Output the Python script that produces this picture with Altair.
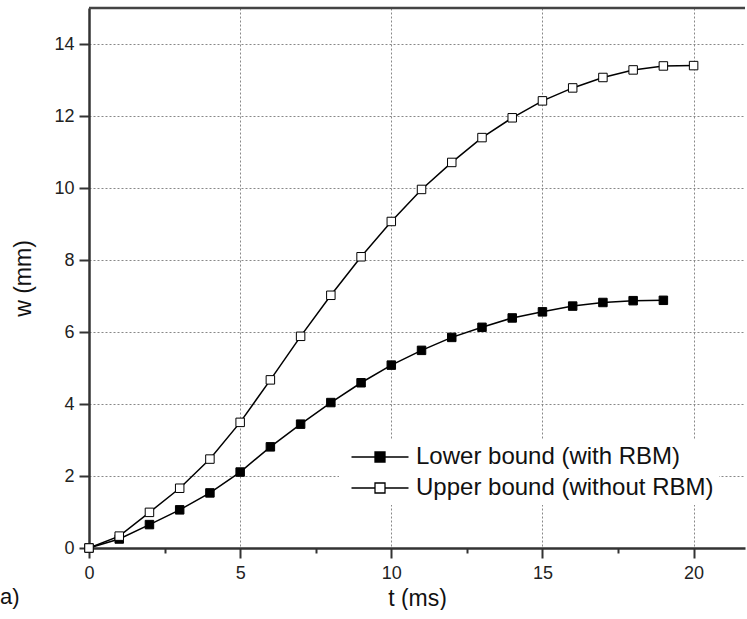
import altair as alt
import pandas as pd

# ---- data ----
t_lower = list(range(0, 20))
w_lower = [0.0, 0.25, 0.65, 1.06, 1.53, 2.11, 2.81, 3.44, 4.04, 4.59,
           5.08, 5.49, 5.85, 6.13, 6.39, 6.56, 6.72, 6.82, 6.87, 6.88]
t_upper = list(range(0, 21))
w_upper = [0.0, 0.33, 0.99, 1.66, 2.47, 3.49, 4.67, 5.88, 7.02, 8.09,
           9.07, 9.96, 10.71, 11.40, 11.95, 12.42, 12.78, 13.07, 13.28, 13.39, 13.40]
series_names = ["Lower bound (with RBM)", "Upper bound (without RBM)"]
series_fills = ["black", "white"]
x_ticks = [0, 2.5, 5, 7.5, 10, 12.5, 15, 17.5, 20]
y_ticks = list(range(0, 16))
x_max = 21.7
y_max = 15

rows = []
for t, w in zip(t_lower, w_lower):
    rows.append({"t": t, "w": w, "series": series_names[0]})
for t, w in zip(t_upper, w_upper):
    rows.append({"t": t, "w": w, "series": series_names[1]})
df = pd.DataFrame(rows)

FONT = "Liberation Sans"

x_enc = alt.X(
    "t:Q",
    scale=alt.Scale(domain=[0, x_max], nice=False, zero=False),
    axis=alt.Axis(
        title="t (ms)",
        values=x_ticks,
        labelExpr="datum.value % 5 == 0 ? datum.label : ''",
        labelFlush=False,
        tickSize={"condition": {"test": "datum.value % 5 != 0", "value": 5}, "value": 10},
        gridOpacity={"condition": {"test": "datum.value % 5 != 0 || datum.value == 0", "value": 0}, "value": 1},
        labelPadding=6,
        titlePadding=5,
    ),
)
y_enc = alt.Y(
    "w:Q",
    scale=alt.Scale(domain=[0, y_max], nice=False, zero=False),
    axis=alt.Axis(
        title="w (mm)",
        values=y_ticks,
        labelExpr="datum.value % 2 == 0 ? datum.label : ''",
        labelFlush=False,
        tickSize={"condition": {"test": "datum.value % 2 != 0", "value": 5}, "value": 10},
        gridOpacity={"condition": {"test": "datum.value % 2 != 0 || datum.value == 0", "value": 0}, "value": 1},
        labelPadding=5,
        titlePadding=18,
    ),
)

base = alt.Chart(df)

lines = base.mark_line(color="black", strokeWidth=1.5).encode(
    x=x_enc, y=y_enc, detail="series:N"
)

points = base.mark_point(
    shape="square", filled=True, size=72, stroke="black", strokeWidth=1, opacity=1
).encode(
    x=x_enc,
    y=y_enc,
    fill=alt.Fill(
        "series:N",
        scale=alt.Scale(domain=series_names, range=series_fills),
        legend=alt.Legend(
            title=None,
            orient="none",
            legendX=250,
            legendY=432,
            symbolType="M-5.7,0H-1M-1,-1H1V1H-1ZM1,0H5.7",
            symbolSize=100,
            symbolStrokeWidth=1.3,
            symbolStrokeColor="black",
            symbolOffset=24,
            labelFontSize=24,
            labelFont=FONT,
            labelColor="#111",
            labelOffset=24,
            labelLimit=0,
            fillColor="white",
            padding=5,
            rowPadding=7,
        ),
    ),
)

top_line = alt.Chart(pd.DataFrame({"v": [y_max]})).mark_rule(
    color="#444", strokeWidth=2.5
).encode(y=alt.Y("v:Q", scale=alt.Scale(domain=[0, y_max], nice=False, zero=False)))

chart = (
    alt.layer(lines, points, top_line)
    .properties(
        width=656,
        height=540,
        padding={"left": 0, "top": 6, "right": 0, "bottom": 0},
        title=alt.Title(
            "a)", orient="bottom", anchor="start", frame="group", dx=-89, offset=-23,
            fontSize=22, fontWeight="normal", font=FONT, color="#111",
        ),
    )
    .configure_view(stroke=None)
    .configure_axis(
        labelFont=FONT,
        labelFontSize=18,
        labelColor="#222",
        titleFont=FONT,
        titleFontSize=23,
        titleFontWeight="normal",
        titleColor="#111",
        domainColor="#333",
        domainWidth=2.5,
        tickColor="#333",
        tickWidth=2,
        gridColor="#888",
        gridDash=[2, 2],
        gridWidth=1,
    )
)

chart.save("out.html", embed_options={"renderer": "svg", "actions": False})
